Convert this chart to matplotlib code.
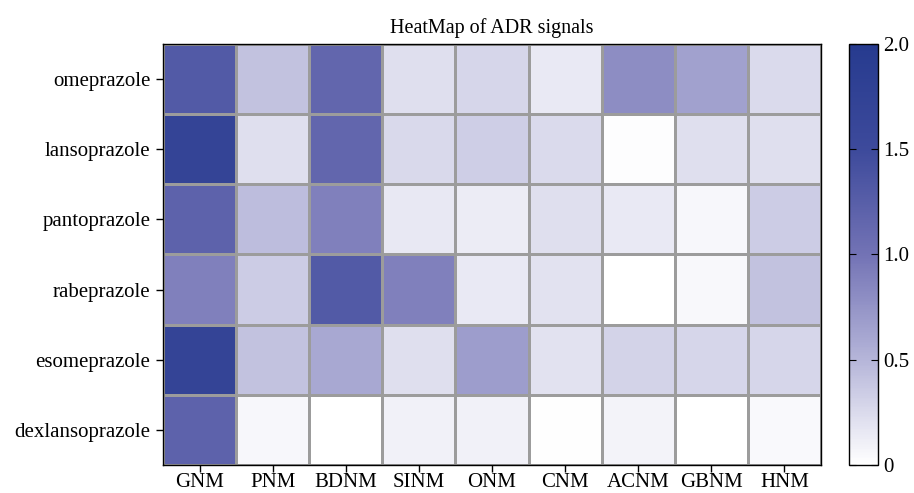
import numpy as np
import matplotlib
matplotlib.use('Agg')
import matplotlib.pyplot as plt
from matplotlib.colors import LinearSegmentedColormap

drugs = ['omeprazole', 'lansoprazole', 'pantoprazole', 'rabeprazole',
         'esomeprazole', 'dexlansoprazole']
signals = ['GNM', 'PNM', 'BDNM', 'SINM', 'ONM', 'CNM', 'ACNM', 'GBNM', 'HNM']

# values (approximate)
omeprazole = [1.30, 0.42, 1.15, 0.22, 0.28, 0.15, 0.80, 0.65, 0.25]
lansoprazole = [1.70, 0.22, 1.15, 0.26, 0.33, 0.25, 0.02, 0.22, 0.22]
pantoprazole = [1.20, 0.45, 0.90, 0.16, 0.13, 0.22, 0.15, 0.06, 0.35]
rabeprazole = [0.90, 0.35, 1.30, 0.90, 0.15, 0.20, 0.00, 0.05, 0.42]
esomeprazole = [1.70, 0.42, 0.60, 0.22, 0.68, 0.20, 0.30, 0.28, 0.28]
dexlansoprazole = [1.20, 0.06, 0.00, 0.10, 0.10, 0.01, 0.08, 0.00, 0.04]

values = np.array([omeprazole, lansoprazole, pantoprazole, rabeprazole,
                   esomeprazole, dexlansoprazole])

cmap = LinearSegmentedColormap.from_list('adr', [
    (0.00, (1.00, 1.00, 1.00)),
    (0.25, (0.71, 0.71, 0.85)),
    (0.50, (0.45, 0.45, 0.71)),
    (0.75, (0.24, 0.29, 0.61)),
    (1.00, (0.15, 0.23, 0.56)),
])

plt.rcParams['font.family'] = ['Liberation Serif', 'DejaVu Serif']

fig = plt.figure(figsize=(9.14, 4.93), dpi=100)
ax = fig.add_axes([0.1783, 0.0568, 0.7199, 0.854])
cax = fig.add_axes([0.9289, 0.0568, 0.0317, 0.854])

mesh = ax.pcolormesh(values, cmap=cmap, vmin=0, vmax=2.0,
                     edgecolors='#9c9c9c', linewidth=0.8)
ax.set_xlim(0, len(signals))
ax.set_ylim(len(drugs), 0)
ax.set_xticks(np.arange(len(signals)) + 0.5)
ax.set_xticklabels(signals)
ax.set_yticks(np.arange(len(drugs)) + 0.5)
ax.set_yticklabels(drugs)
ax.tick_params(axis='both', labelsize=15, length=5, width=1, direction='out')
ax.tick_params(axis='x', pad=1)
ax.tick_params(axis='y', pad=4)
ax.set_title('HeatMap of ADR signals', fontsize=14.5, pad=8)
for s in ax.spines.values():
    s.set_linewidth(1.0)

cb = fig.colorbar(mesh, cax=cax)
cb.set_ticks([0, 0.5, 1.0, 1.5, 2.0])
cb.set_ticklabels(['0', '0.5', '1.0', '1.5', '2.0'])
cb.ax.tick_params(labelsize=15, direction='in', length=5, left=True, right=True, pad=4)
cb.outline.set_linewidth(1.0)

fig.savefig('out.png', dpi=100)
